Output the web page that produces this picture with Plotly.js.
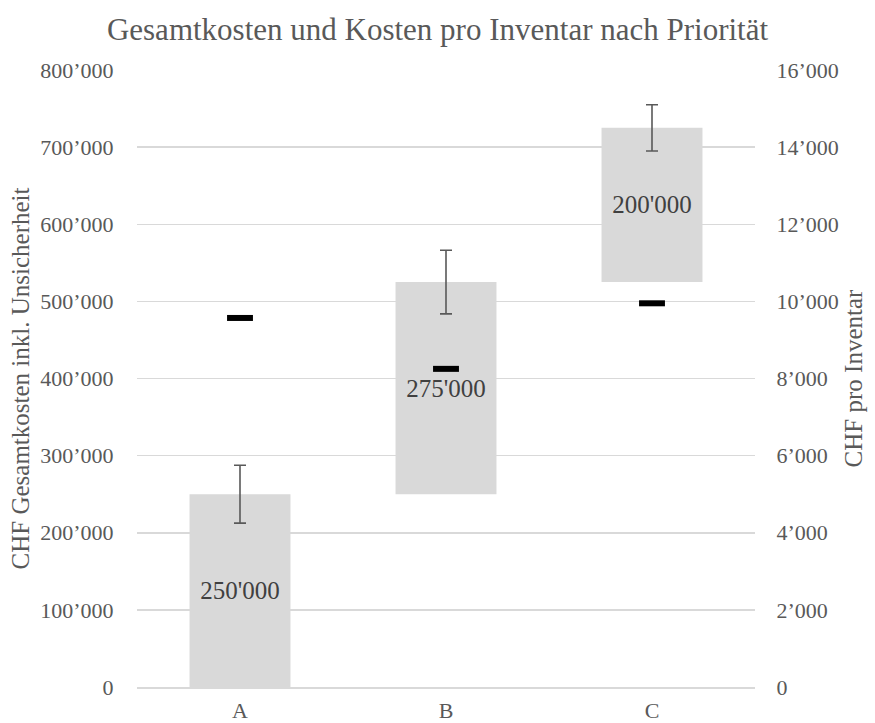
<!DOCTYPE html>
<html>
<head>
<meta charset="utf-8">
<script src="https://cdn.plot.ly/plotly-3.0.1.min.js"></script>
<style>html,body{margin:0;padding:0;background:#fff;}#chart{width:875px;height:723px;}</style>
</head>
<body>
<div id="chart"></div>
<script>
const categories = ['A', 'B', 'C'];
const barBase = [0, 250000, 525000];
const barValue = [250000, 275000, 200000];
const errValue = [37500, 41250, 30000];
const perInventar = [9570, 8250, 9950];

const fontFam = 'Liberation Serif';
const grey = '#595959';

const labels = barValue.map(v => String(v).replace(/\B(?=(\d{3})+(?!\d))/g, "'"));

const traces = [
  {
    type: 'bar',
    x: categories,
    y: barValue,
    base: barBase,
    marker: {color: '#d9d9d9'},
    text: labels,
    textposition: 'inside',
    insidetextanchor: 'middle',
    constraintext: 'none',
    insidetextfont: {family: fontFam, size: 25, color: '#404040'},
    textfont: {family: fontFam, size: 25, color: '#404040'},
    error_y: {type: 'data', array: errValue, visible: true, color: grey, thickness: 1.6, width: 6},
    hoverinfo: 'none',
    showlegend: false
  },
  {
    type: 'scatter',
    mode: 'markers',
    x: categories,
    y: perInventar,
    yaxis: 'y2',
    marker: {symbol: 'line-ew-open', size: 18.5, color: '#000', line: {width: 6, color: '#000'}},
    hoverinfo: 'none',
    showlegend: false
  }
];

const layout = {
  width: 875,
  height: 723,
  margin: {l: 137, r: 120, t: 70, b: 36},
  paper_bgcolor: '#fff',
  plot_bgcolor: '#fff',
  separators: ".’",
  bargap: 0.51,
  font: {family: fontFam, color: grey},
  title: {
    text: 'Gesamtkosten und Kosten pro Inventar nach Priorität',
    font: {family: fontFam, size: 31, color: grey},
    x: 0.5, xanchor: 'center', y: 0.974, yanchor: 'top'
  },
  xaxis: {
    type: 'category',
    tickfont: {family: fontFam, size: 22, color: grey},
    showgrid: false,
    showline: true,
    linecolor: '#d9d9d9',
    linewidth: 1.5,
    ticks: 'outside', ticklen: 3, tickcolor: 'rgba(0,0,0,0)'
  },
  yaxis: {
    range: [0, 800000],
    dtick: 100000,
    tickformat: ',',
    tickfont: {family: fontFam, size: 22, color: grey},
    showgrid: true,
    gridcolor: '#d9d9d9',
    gridwidth: 1.5,
    zeroline: false,
    ticks: 'outside', ticklen: 18, tickcolor: 'rgba(0,0,0,0)',
    title: {text: 'CHF Gesamtkosten inkl. Unsicherheit', font: {family: fontFam, size: 25, color: grey}, standoff: 3}
  },
  yaxis2: {
    overlaying: 'y',
    side: 'right',
    range: [0, 16000],
    dtick: 2000,
    tickformat: ',',
    tickfont: {family: fontFam, size: 22, color: grey},
    showgrid: false,
    zeroline: false,
    ticks: 'outside', ticklen: 16, tickcolor: 'rgba(0,0,0,0)',
    title: {text: 'CHF pro Inventar', font: {family: fontFam, size: 25, color: grey}, standoff: 6}
  }
};

Plotly.newPlot('chart', traces, layout, {displayModeBar: false, staticPlot: true});
</script>
</body>
</html>
